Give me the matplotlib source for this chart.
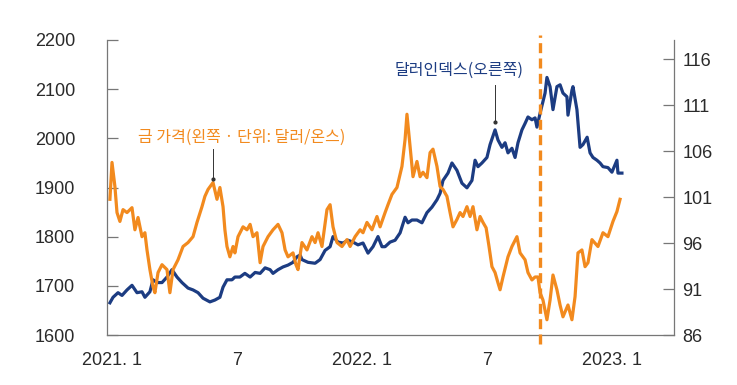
import matplotlib.pyplot as plt
import matplotlib.transforms as mtransforms

plt.rcParams['font.family'] = ['Liberation Sans', 'Noto Sans CJK KR', 'DejaVu Sans']

# x positions are months since 2021.1
gold_month = [-0.10, 0.00, 0.14, 0.24, 0.38, 0.53, 0.72, 0.96, 1.10, 1.25, 1.44, 1.58, 1.68, 1.82,
              1.97, 2.06, 2.21, 2.40, 2.64, 2.78, 2.93, 3.17, 3.41, 3.65, 3.89, 4.08, 4.32, 4.46,
              4.61, 4.85, 5.04, 5.18, 5.33, 5.42, 5.52, 5.66, 5.81, 5.90, 6.05, 6.29, 6.48, 6.63,
              6.77, 6.96, 7.11, 7.25, 7.49, 7.73, 7.97, 8.16, 8.31, 8.45, 8.69, 8.83, 8.93, 9.12,
              9.36, 9.60, 9.75, 9.89, 10.08, 10.32, 10.47, 10.61, 10.80, 11.04, 11.28, 11.43, 11.67,
              11.91, 12.05, 12.24, 12.48, 12.72, 12.87, 13.11, 13.25, 13.44, 13.68, 13.92, 14.07,
              14.16, 14.31, 14.45, 14.64, 14.79, 14.93, 15.12, 15.27, 15.41, 15.60, 15.75, 15.89,
              16.08, 16.23, 16.37, 16.56, 16.71, 16.85, 17.04, 17.19, 17.33, 17.52, 17.67, 17.81,
              17.96, 18.10, 18.24, 18.39, 18.53, 18.63, 18.77, 19.01, 19.20, 19.44, 19.59, 19.83,
              19.97, 20.16, 20.31, 20.45, 20.55, 20.69, 20.88, 21.03, 21.17, 21.36, 21.51, 21.65,
              21.89, 22.08, 22.23, 22.37, 22.56, 22.71, 22.85, 23.04, 23.33, 23.57, 23.81, 24.05,
              24.24, 24.39]
gold_price = [1876, 1951, 1902, 1849, 1831, 1855, 1849, 1859, 1814, 1839, 1800, 1808, 1773, 1733,
              1698, 1686, 1727, 1743, 1733, 1686, 1733, 1753, 1780, 1788, 1800, 1829, 1861, 1882,
              1896, 1910, 1876, 1900, 1861, 1814, 1780, 1759, 1780, 1767, 1800, 1820, 1814, 1825,
              1800, 1808, 1747, 1780, 1800, 1814, 1825, 1808, 1773, 1759, 1767, 1743, 1733, 1788,
              1773, 1800, 1788, 1808, 1780, 1855, 1865, 1820, 1788, 1780, 1794, 1780, 1800,
              1814, 1808, 1829, 1814, 1841, 1820, 1849, 1865, 1886, 1900, 1943, 1998,
              2049, 1984, 1922, 1953, 1922, 1931, 1920, 1971, 1978, 1943, 1902, 1896,
              1882, 1849, 1820, 1835, 1849, 1841, 1861, 1841, 1861, 1814, 1841, 1829,
              1818, 1780, 1739, 1727, 1706, 1692, 1718, 1759, 1780, 1800, 1767, 1753,
              1727, 1712, 1718, 1718, 1686, 1671, 1631, 1671, 1722, 1692, 1661, 1637,
              1661, 1631, 1678, 1767, 1773, 1739, 1747, 1794, 1780, 1808, 1800, 1831,
              1851, 1876]

dollar_month = [-0.10, 0.05, 0.29, 0.48, 0.72, 0.96, 1.20, 1.44, 1.58, 1.82, 1.97, 2.16, 2.40, 2.64,
                2.88, 3.12, 3.36, 3.65, 3.89, 4.13, 4.37, 4.70, 4.94, 5.18, 5.33, 5.52, 5.76, 5.90,
                6.14, 6.38, 6.63, 6.87, 7.11, 7.35, 7.59, 7.73, 7.97, 8.21, 8.45, 8.69, 8.88, 9.03,
                9.12, 9.41, 9.75, 9.99, 10.23, 10.47, 10.61, 10.85, 11.09, 11.33, 11.57, 11.81,
                12.05, 12.29, 12.53, 12.77, 12.96, 13.11, 13.35, 13.59, 13.83, 14.07, 14.21, 14.40,
                14.64, 14.88, 15.12, 15.36, 15.60, 15.75, 15.89, 16.13, 16.32, 16.56, 16.80, 17.04,
                17.28, 17.43, 17.57, 17.76, 18.00, 18.15, 18.39, 18.53, 18.72, 18.87, 19.01, 19.20,
                19.35, 19.49, 19.68, 19.83, 19.97, 20.16, 20.31, 20.40, 20.55, 20.79, 20.88, 21.03,
                21.17, 21.36, 21.51, 21.65, 21.84, 21.89, 22.08, 22.13, 22.32, 22.47, 22.61, 22.81,
                22.95, 23.09, 23.28, 23.43, 23.57, 23.81, 24.00, 24.24, 24.29, 24.48]
dollar_index = [89.5, 90.1, 90.6, 90.3, 90.9, 91.4, 90.6, 90.7, 90.1, 90.7, 92.0, 91.7, 91.7, 92.3,
                93.1, 92.3, 91.7, 91.1, 90.9, 90.6, 90.0, 89.6, 89.8, 90.1, 91.2, 92.0, 92.0, 92.3,
                92.3, 92.7, 92.3, 92.8, 92.7, 93.3, 93.1, 92.7, 93.1, 93.4, 93.6, 93.9, 94.5, 94.7,
                94.2, 93.9, 93.8, 94.2, 95.2, 95.6, 96.7, 96.1, 96.0, 96.3, 96.1, 95.8,
                96.0, 94.9, 95.6, 96.7, 95.6, 95.6, 96.1, 96.3, 97.1, 98.8, 98.2, 98.5,
                98.5, 98.2, 99.3, 99.9, 100.7, 101.4, 102.8, 103.6, 104.7, 103.9, 102.5, 102.0,
                102.8, 105.0, 104.3, 104.7, 105.3, 106.7, 108.3, 107.2, 106.4, 106.9, 105.8, 106.3,
                105.3, 106.9, 108.3, 109.0, 109.7, 109.4, 109.6, 108.6, 110.1, 112.3, 114.0, 113.0,
                110.5, 113.0, 113.2, 112.3, 111.9, 109.9, 112.6, 113.0, 110.5, 106.4, 106.7, 107.5,
                105.8, 105.3, 105.0, 104.7, 104.3, 104.2, 103.7, 105.0, 103.6, 103.6]

x_ticks = [0, 6, 12, 18, 24]
x_labels = ['2021. 1', '7', '2022. 1', '7', '2023. 1']
gold_ticks = [1600, 1700, 1800, 1900, 2000, 2100, 2200]
dollar_ticks = [86, 91, 96, 101, 106, 111, 116]
marker_month = 20.55

gold_color = '#F28A1E'
dollar_color = '#1C3C82'
spine_color = '#777777'

fig = plt.figure(figsize=(7.37, 3.85), dpi=100)
ax = fig.add_axes([107 / 737, 50 / 385, 567 / 737, 295 / 385])
ax2 = ax.twinx()
ax.set_zorder(ax2.get_zorder() + 1)
ax.patch.set_visible(False)

ax2.plot(dollar_month, dollar_index, color=dollar_color, lw=2.3, solid_joinstyle='round')
ax.plot(gold_month, gold_price, color=gold_color, lw=2.3, solid_joinstyle='round')

ax.set_xlim(-0.24, 26.98)
ax.set_ylim(1600, 2200)
ax2.set_ylim(86, 118.07)

for a in (ax, ax2):
    for s in a.spines.values():
        s.set_color(spine_color)
        s.set_linewidth(0.9)
    a.spines['top'].set_visible(False)
ax.spines['right'].set_visible(False)
ax2.spines['left'].set_visible(False)
ax2.spines['bottom'].set_visible(False)

ax.set_xticks(x_ticks)
ax.set_xticklabels(x_labels)
ax.set_yticks(gold_ticks)
ax2.set_yticks(dollar_ticks)
ax.tick_params(axis='x', length=0, pad=12, labelsize=13, colors='#2a2a2a')
ax.tick_params(axis='y', direction='in', length=8, width=0.9, color=spine_color,
               pad=23, labelsize=13, labelcolor='#2a2a2a')
ax2.tick_params(axis='y', direction='in', length=8, width=0.9, color=spine_color,
                pad=6, labelsize=13, labelcolor='#2a2a2a')

# vertical dashed marker
trans = mtransforms.blended_transform_factory(ax.transData, ax.transAxes)
ax.plot([marker_month, marker_month], [-0.03, 1.017], transform=trans, color=gold_color,
        lw=2.4, ls=(0, (3, 1.6)), clip_on=False, zorder=5)

# labels and pointers
ax.text(6.22, 2002, '금 가격(왼쪽 · 단위: 달러/온스)', color=gold_color, fontsize=11.5,
        family=['Noto Sans CJK KR', 'DejaVu Sans'], ha='center', va='center')
ax.plot([4.85, 4.85], [1978, 1918], color='#333333', lw=0.7)
ax.plot([4.85], [1918], marker='o', ms=2, color='#333333')

ax2.text(16.68, 114.8, '달러인덱스(오른쪽)', color=dollar_color, fontsize=11.5,
         family=['Noto Sans CJK KR', 'DejaVu Sans'], ha='center', va='center')
ax2.plot([18.39, 18.39], [113.2, 109.2], color='#333333', lw=0.7)
ax2.plot([18.39], [109.2], marker='o', ms=2, color='#333333')

fig.savefig('out.png', dpi=100)
